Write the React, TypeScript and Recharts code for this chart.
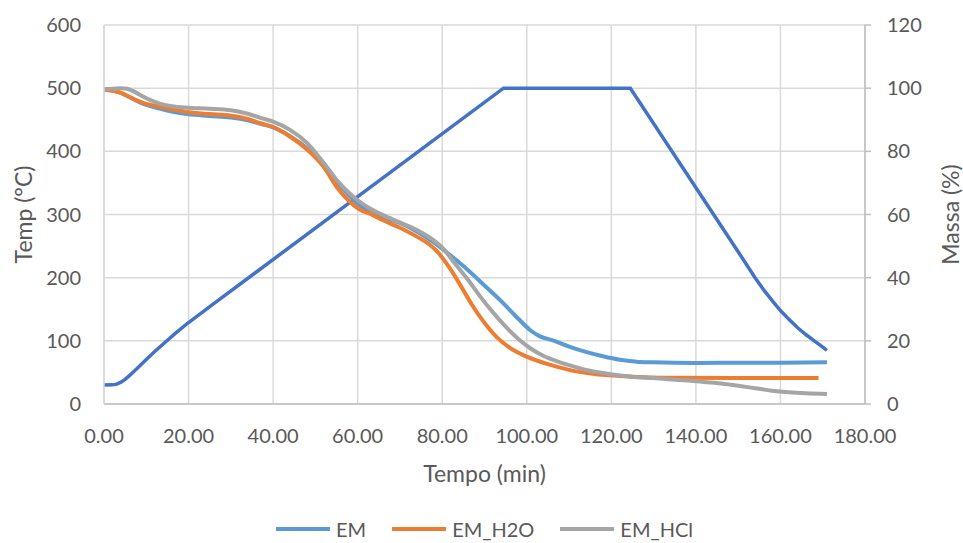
import React from 'react';
import { LineChart, Line, XAxis, YAxis, CartesianGrid, Label } from 'recharts';

const xTicks = [0, 20, 40, 60, 80, 100, 120, 140, 160, 180];
const tempTicks = [0, 100, 200, 300, 400, 500, 600];
const massTicks = [0, 20, 40, 60, 80, 100, 120];

// temperature program (left axis, °C)
const tempTime = [0, 2, 3, 4, 5, 6, 7, 8, 10, 12, 14, 17, 20, 24, 27, 94.5, 124.5, 150, 154, 156, 158, 160, 162, 164, 166, 168, 170, 171];
const tempValues = [30, 30.3, 31.5, 34.5, 39, 45, 51, 57.5, 70.5, 83, 95, 112.5, 129, 149, 164, 500, 500, 241, 200, 181, 164, 148, 134, 121, 110, 100, 90, 85];

// mass curves (right axis, %)
const emTime = [0, 2, 4, 6, 8, 10, 13, 16, 20, 25, 30, 34, 37, 40, 44, 48, 52, 55, 58, 61, 64, 67, 70, 74, 78, 82, 86, 90, 94, 98, 101, 103, 106, 110, 114, 118, 122, 126, 130, 140, 150, 160, 171];
const emMass = [99.6, 99.3, 98.5, 97.2, 95.8, 94.7, 93.6, 92.6, 91.7, 91.2, 90.7, 89.8, 88.7, 87.6, 84.8, 81, 75.8, 70.5, 66, 62.5, 60.5, 58.8, 57.3, 54.6, 51.2, 47, 42.5, 37.5, 32.5, 27, 23.2, 21.5, 20.2, 18.2, 16.5, 15.1, 14, 13.4, 13.2, 13.0, 13.1, 13.1, 13.2];

const h2oTime = [0, 2, 4, 6, 8, 10, 13, 16, 20, 25, 30, 34, 37, 40, 44, 48, 52, 55, 58, 60.5, 63, 66, 70, 74, 77, 79, 81, 83, 85, 87, 89, 91, 93, 96, 100, 105, 110, 116, 122, 128, 134, 150, 169];
const h2oMass = [99.5, 99.2, 98.5, 97.3, 96, 95, 94.2, 93.3, 92.4, 91.8, 91.3, 90.3, 88.9, 87.7, 84.7, 80.6, 75, 68.8, 64.2, 61.6, 60.2, 58.2, 55.8, 53, 50.5, 48, 44.5, 40.5, 36, 31.5, 27.5, 24, 21, 17.8, 15, 12.6, 10.8, 9.5, 8.9, 8.5, 8.3, 8.2, 8.2];

const hclTime = [0, 2, 4, 5.5, 7, 9, 11, 13, 16, 20, 25, 30, 34, 37, 40, 44, 48, 52, 55, 58, 60, 63, 66, 70, 74, 78, 80, 83, 86, 89, 92, 95, 98, 101, 104, 107, 110, 114, 118, 122, 126, 130, 135, 141, 146, 150, 154, 158, 162, 166, 171];
const hclMass = [99.7, 99.8, 100, 99.8, 99, 97.5, 96.2, 95.2, 94.3, 93.8, 93.5, 93, 91.9, 90.6, 89.4, 86.8, 82.7, 76.3, 71, 66.8, 64.5, 61.8, 59.8, 57.5, 55.1, 51.8, 49.5, 44.5, 39.5, 34, 29, 24.5, 20.6, 17.5, 15.2, 13.6, 12.3, 10.8, 9.8, 9, 8.5, 8.2, 7.7, 7.1, 6.5, 5.8, 5, 4.2, 3.7, 3.4, 3.2];

const toPoints = (t: number[], v: number[]) => t.map((x, i) => ({ t: x, v: v[i] }));

const massSeries = [
  { name: 'EM', color: '#5B9BD5', data: toPoints(emTime, emMass) },
  { name: 'EM_H2O', color: '#ED7D31', data: toPoints(h2oTime, h2oMass) },
  { name: 'EM_HCl', color: '#A5A5A5', data: toPoints(hclTime, hclMass) },
];
const tempData = toPoints(tempTime, tempValues);

const FONT = 'Lato, "Open Sans", sans-serif';
const TEXT = '#595959';
const tickStyle = { fill: TEXT, fontSize: 20, fontFamily: FONT };

const title = (text: string, dx: number, dy: number, angle: number) => (props: any) => {
  const vb = props.viewBox || {};
  const x = vb.x + dx;
  const y = vb.y + dy;
  return (
    <text x={x} y={y} transform={`rotate(${angle}, ${x}, ${y})`} textAnchor="middle" dominantBaseline="central"
      fill={TEXT} fontSize={23} fontFamily={FONT}>
      {text}
    </text>
  );
};

export default function App() {
  return (
    <div style={{ position: 'absolute', left: 0, top: 0, width: 963, height: 543, background: '#fff' }}>
      <LineChart width={963} height={543} margin={{ top: 25, right: 0, left: 0, bottom: 59 }}>
        <CartesianGrid yAxisId="left" stroke="#D9D9D9" strokeWidth={1.5} />
        <XAxis type="number" dataKey="t" domain={[0, 180]} ticks={xTicks} tickFormatter={(v: number) => v.toFixed(2)}
          height={80} stroke="#BFBFBF" strokeWidth={1.5} tickLine={false} tickSize={0} tickMargin={25} tick={tickStyle}
          allowDataOverflow>
          <Label content={title('Tempo (min)', 380.5, 69, 0)} />
        </XAxis>
        <YAxis yAxisId="left" domain={[0, 600]} ticks={tempTicks} width={104} stroke="#D9D9D9" strokeWidth={1.5}
          tickLine={false} tickSize={0} tickMargin={23} tick={tickStyle}>
          <Label content={title('Temp (°C)', 23, 189.5, -90)} />
        </YAxis>
        <YAxis yAxisId="right" orientation="right" domain={[0, 120]} ticks={massTicks} width={98} stroke="#BFBFBF"
          strokeWidth={1.5} tickSize={6} tickMargin={16} tick={tickStyle}>
          <Label content={title('Massa (%)', 85, 189.5, -90)} />
        </YAxis>
        <Line yAxisId="left" data={tempData} dataKey="v" type="linear" stroke="#4472C4" strokeWidth={3.5}
          dot={false} isAnimationActive={false} />
        {massSeries.map(s => (
          <Line key={s.name} yAxisId="right" data={s.data} dataKey="v" name={s.name} type="monotone" stroke={s.color}
            strokeWidth={4} dot={false} isAnimationActive={false} />
        ))}
      </LineChart>
      <div style={{ position: 'absolute', left: 0, top: 516, width: 963, display: 'flex', justifyContent: 'center',
        fontFamily: FONT, fontSize: 20, color: TEXT, paddingLeft: 6, boxSizing: 'border-box' }}>
        {massSeries.map(s => (
          <div key={s.name} style={{ display: 'flex', alignItems: 'center', margin: '0 13px' }}>
            <svg width={54} height={26} style={{ marginRight: 6 }}>
              <line x1={0} y1={13} x2={54} y2={13} stroke={s.color} strokeWidth={4} strokeLinecap="round" />
            </svg>
            <span style={{ lineHeight: '26px' }}>{s.name}</span>
          </div>
        ))}
      </div>
    </div>
  );
}
